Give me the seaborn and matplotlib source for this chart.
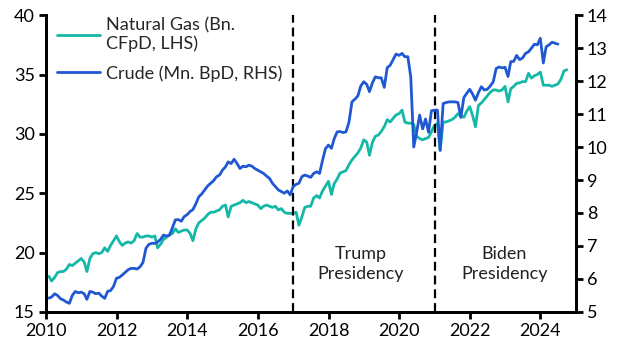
import numpy as np
import pandas as pd
import matplotlib
matplotlib.use('Agg')
import matplotlib.pyplot as plt
import matplotlib.dates as mdates
import seaborn as sns

# monthly US production (month-end dates)
gas = [
    18.0, 17.6, 17.9, 18.3, 18.4, 18.4, 18.6, 19.0, 18.9, 19.1, 19.3, 19.5,  # 2010
    19.2, 18.4, 19.5, 19.9, 20.0, 19.9, 20.0, 20.4, 20.1, 20.6, 21.0, 21.4,  # 2011
    20.9, 20.6, 20.8, 20.9, 20.8, 21.0, 21.6, 21.3, 21.3, 21.4, 21.4, 21.3,  # 2012
    21.4, 20.4, 20.7, 21.1, 21.3, 21.5, 21.6, 22.0, 21.7, 21.8, 21.9, 21.9,  # 2013
    21.6, 21.0, 22.0, 22.5, 22.7, 22.9, 23.2, 23.4, 23.4, 23.5, 23.6, 23.9,  # 2014
    24.0, 23.0, 23.9, 24.0, 24.1, 24.2, 24.4, 24.2, 24.3, 24.2, 24.1, 24.0,  # 2015
    23.7, 23.9, 24.0, 23.9, 23.8, 23.9, 23.6, 23.7, 23.4, 23.3, 23.3, 23.3,  # 2016
    23.4, 22.3, 23.0, 23.8, 23.9, 23.9, 24.6, 24.8, 24.6, 25.2, 25.6, 26.0,  # 2017
    24.9, 25.8, 26.2, 26.7, 26.8, 26.9, 27.4, 27.8, 28.1, 28.4, 28.8, 29.5,  # 2018
    29.3, 28.2, 29.3, 29.8, 29.9, 30.2, 30.6, 31.2, 31.0, 31.3, 31.6, 31.7,  # 2019
    32.0, 31.0, 30.9, 30.9, 30.8, 29.8, 29.6, 29.5, 29.6, 29.7, 30.2, 30.7,  # 2020
    30.9, 28.6, 31.0, 31.0, 31.1, 31.2, 31.4, 31.7, 31.5, 31.4, 31.9, 32.3,  # 2021
    31.5, 30.6, 32.4, 32.6, 32.9, 33.2, 33.5, 33.7, 33.7, 33.6, 33.7, 34.0,  # 2022
    32.7, 33.8, 34.0, 34.25, 34.3, 34.4, 34.4, 35.1, 34.7, 34.9, 35.0, 35.2,  # 2023
    34.1, 34.1, 34.1, 34.0, 34.1, 34.2, 34.6, 35.3, 35.4,                   # 2024
]
crude = [
    5.42, 5.45, 5.55, 5.50, 5.40, 5.36, 5.30, 5.26, 5.50, 5.62, 5.58, 5.60,  # 2010
    5.55, 5.38, 5.62, 5.60, 5.55, 5.57, 5.48, 5.41, 5.62, 5.65, 5.77, 6.02,  # 2011
    6.05, 6.12, 6.20, 6.28, 6.32, 6.32, 6.30, 6.37, 6.50, 6.93, 7.05, 7.08,  # 2012
    7.08, 7.12, 7.20, 7.33, 7.30, 7.32, 7.55, 7.79, 7.80, 7.75, 7.89, 7.95,  # 2013
    8.05, 8.10, 8.28, 8.49, 8.58, 8.70, 8.82, 8.90, 8.98, 9.10, 9.15, 9.30,  # 2014
    9.40, 9.55, 9.50, 9.63, 9.50, 9.35, 9.42, 9.40, 9.45, 9.42, 9.35, 9.30,  # 2015
    9.25, 9.20, 9.12, 9.05, 8.90, 8.80, 8.70, 8.65, 8.60, 8.67, 8.55, 8.80,  # 2016
    8.87, 8.90, 9.10, 9.15, 9.12, 9.08, 9.20, 9.25, 9.20, 9.60, 9.95, 10.06,  # 2017
    9.96, 10.25, 10.46, 10.47, 10.44, 10.46, 10.75, 11.37, 11.45, 11.55, 11.85, 11.98,  # 2018
    11.90, 11.68, 11.95, 12.13, 12.10, 12.10, 11.81, 12.41, 12.48, 12.65, 12.82, 12.78,  # 2019
    12.84, 12.74, 12.74, 12.13, 10.00, 10.45, 10.97, 10.55, 10.85, 10.45, 11.10, 11.12,  # 2020
    11.12, 9.90, 11.32, 11.35, 11.37, 11.37, 11.37, 11.35, 10.90, 11.50, 11.63, 11.75,  # 2021
    11.60, 11.42, 11.65, 11.83, 11.73, 11.75, 11.85, 11.98, 12.38, 12.43, 12.40, 12.42,  # 2022
    12.14, 12.59, 12.60, 12.78, 12.65, 12.70, 12.84, 12.89, 13.00, 13.12, 13.10, 13.30,  # 2023
    12.55, 13.04, 13.10, 13.18, 13.15, 13.12,                                           # 2024
]
start = '2010-01-31'
gas_label = 'Natural Gas (Bn.\nCFpD, LHS)'
crude_label = 'Crude (Mn. BpD, RHS)'
eras = ['Trump\nPresidency', 'Biden\nPresidency']
era_starts = ['2017-01-01', '2021-01-01']
era_text_x = ['2018-11-25', '2022-12-25']

gas_col = '#14b8a6'
crude_col = '#1f58d2'
fs = 13

df_gas = pd.DataFrame({'date': pd.date_range(start, periods=len(gas), freq='ME'), 'value': gas})
df_crude = pd.DataFrame({'date': pd.date_range(start, periods=len(crude), freq='ME'), 'value': crude})

sns.set_style('ticks')
plt.rcParams['font.family'] = ['Lato', 'DejaVu Sans']
plt.rcParams['font.size'] = fs

fig, ax = plt.subplots(figsize=(6.3, 3.61), dpi=100)
fig.subplots_adjust(left=0.073, right=0.914, bottom=0.136, top=0.958)
ax2 = ax.twinx()

sns.lineplot(data=df_gas, x='date', y='value', ax=ax, color=gas_col, lw=2.0, label=gas_label, legend=False)
sns.lineplot(data=df_crude, x='date', y='value', ax=ax2, color=crude_col, lw=2.0, label=crude_label, legend=False)

ax.set_ylim(15, 40)
ax.set_yticks(range(15, 41, 5))
ax2.set_ylim(5, 14)
ax2.set_yticks(range(5, 15))
ax.set_xlim(pd.Timestamp('2010-01-01'), pd.Timestamp('2025-01-01'))
ax.xaxis.set_major_locator(mdates.YearLocator(2))
ax.xaxis.set_major_formatter(mdates.DateFormatter('%Y'))
ax.set_xlabel('')
ax.set_ylabel('')
ax2.set_ylabel('')

for a in (ax, ax2):
    for s in a.spines.values():
        s.set_linewidth(2)
        s.set_color('black')
    a.spines['top'].set_visible(False)
    a.tick_params(width=2, length=5, labelsize=fs, colors='black', pad=3)

for d in era_starts:
    ax.axvline(pd.Timestamp(d), color='black', lw=1.6, dashes=(4, 2.2))

for t, xd in zip(eras, era_text_x):
    ax.text(pd.Timestamp(xd), 19.0, t, ha='center', va='center', fontsize=fs, linespacing=1.3, color='#222222')

h1, l1 = ax.get_legend_handles_labels()
h2, l2 = ax2.get_legend_handles_labels()
ax.legend(h1 + h2, l1 + l2, loc='upper left', frameon=False, fontsize=fs,
          handlelength=2.4, handletextpad=0.35, borderaxespad=0.2, labelspacing=0.7,
          bbox_to_anchor=(0.0, 1.03))

fig.savefig('out.png', dpi=100)
